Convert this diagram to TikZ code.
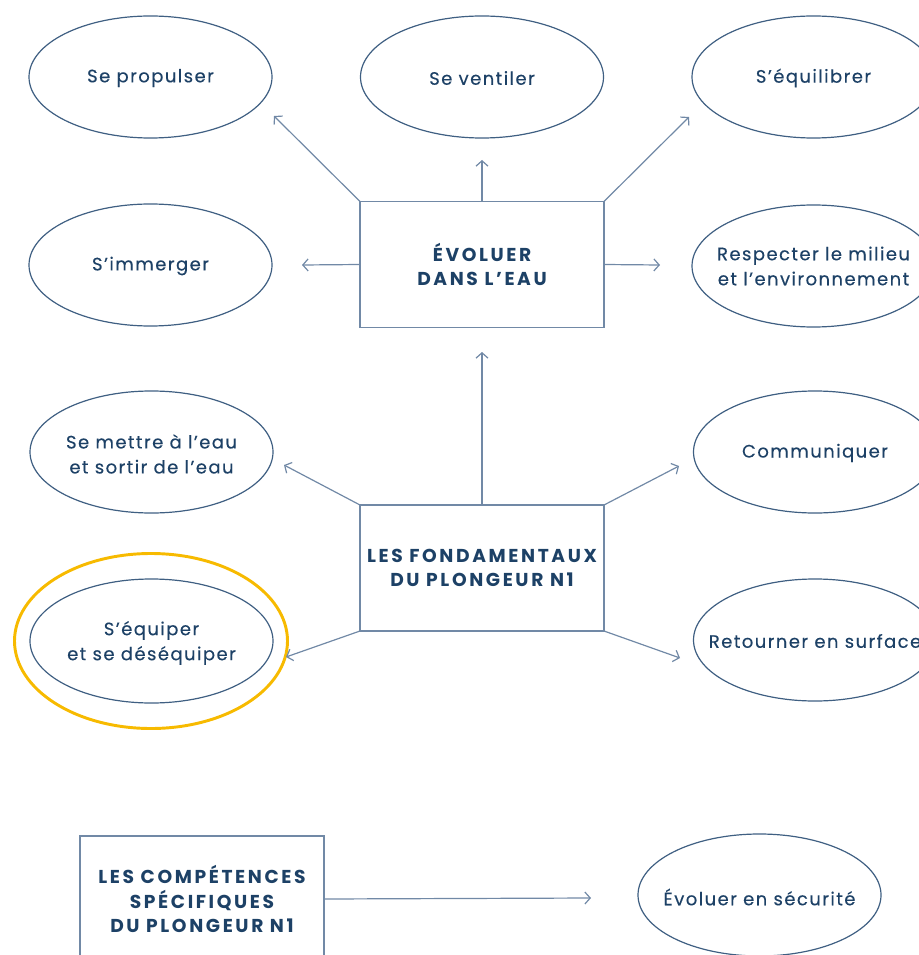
\documentclass[tikz,border=0pt]{standalone}
\usepackage{fontspec}
\setmainfont{Poppins}
\newfontfamily\ovalfont{Poppins}[LetterSpace=8, Ligatures=NoCommon, FakeBold=0.3]
\newfontfamily\boxfont{Poppins}[LetterSpace=14, Ligatures=NoCommon]
\usetikzlibrary{arrows.meta}

\definecolor{navy}{HTML}{1D4166}
\definecolor{lineblue}{HTML}{7189A6}
\definecolor{ovalblue}{HTML}{3F5F82}
\definecolor{ringgold}{HTML}{F7BA00}

\begin{document}
\begin{tikzpicture}[x=0.75pt, y=-0.75pt,
  txt/.style={text=navy, font=\ovalfont\fontsize{13.5}{18.75}\selectfont, align=center, inner sep=0pt},
  title/.style={draw=lineblue, line width=1.2pt, text=navy, font=\boxfont\bfseries\fontsize{14}{18.5}\selectfont,
    align=center, minimum width=183pt, minimum height=94.5pt, inner sep=0pt, outer sep=0pt},
  oval/.style={draw=ovalblue, line width=0.9pt},
  arr/.style={draw=lineblue, line width=0.9pt, -{Straight Barb[length=4pt, width=9pt]}}]

% cadre de la page (les ovales de droite sont coupés au bord)
\useasboundingbox (0,0) rectangle (919,955);
\clip (0,0) rectangle (919,955);

% les trois blocs principaux
\node[title] (evo) at (482,264.5) {ÉVOLUER\\DANS L’EAU};
\node[title] (fond) at (482,568) {LES FONDAMENTAUX\\DU PLONGEUR N1};
\node[title] (spec) at (202,899) {LES COMPÉTENCES\\SPÉCIFIQUES\\DU PLONGEUR N1};

% compétences autour de « évoluer dans l'eau »
\node[txt] (prop) at (150.5,78) {Se propulser};
\node[txt] (vent) at (482,78) {Se ventiler};
\node[txt] (equil) at (813.5,78) {S’équilibrer};
\node[txt] (imm) at (150.5,266) {S’immerger};
\node[txt] (resp) at (813.5,266) {Respecter le milieu\\et l’environnement};

% compétences autour des fondamentaux
\node[txt] (eau) at (151.5,454) {Se mettre à l’eau\\et sortir de l’eau};
\node[txt] (comm) at (815,453) {Communiquer};
\node[txt] (equip) at (151.5,643) {S’équiper\\et se déséquiper};
\node[txt] (surf) at (815,641) {Retourner en surface};

% compétence spécifique
\node[txt] (secu) at (759.5,897) {Évoluer en sécurité};

% ovales autour des textes
\draw[oval] (150.5,77) ellipse [x radius=121.5, y radius=61];
\draw[oval] (482,77) ellipse [x radius=121.5, y radius=61];
\draw[oval] (813.5,77) ellipse [x radius=121.5, y radius=61];
\draw[oval] (150.5,265) ellipse [x radius=121.5, y radius=61];
\draw[oval] (813.5,266) ellipse [x radius=121.5, y radius=61];
\draw[oval] (151.5,452) ellipse [x radius=121.5, y radius=61];
\draw[oval] (815,452) ellipse [x radius=121.5, y radius=61];
\draw[oval] (151.5,641) ellipse [x radius=121.5, y radius=62];
\draw[oval] (815,640) ellipse [x radius=121.5, y radius=61];
\draw[oval] (759.5,895) ellipse [x radius=121.5, y radius=61];

% anneau jaune : compétence mise en avant
\draw[ringgold, line width=2.2pt] (151,641) ellipse [x radius=136.5, y radius=87.5];

% pointes des flèches (elles s'arrêtent avant les ovales)
\coordinate (tProp) at (274,116);
\coordinate (tVent) at (482,160);
\coordinate (tEquil) at (689,117);
\coordinate (tImm) at (302,265);
\coordinate (tResp) at (660,265);
\coordinate (tEvo) at (482,352);
\coordinate (tEau) at (284,465);
\coordinate (tComm) at (679,466);
\coordinate (tEquip) at (286,657);
\coordinate (tSurf) at (680,658);
\coordinate (tSecu) at (591,898);

% flèches
\draw[arr] (evo.north west) -- (tProp);
\draw[arr] (evo.north) -- (tVent);
\draw[arr] (evo.north east) -- (tEquil);
\draw[arr] (evo.west) -- (tImm);
\draw[arr] (evo.east) -- (tResp);
\draw[arr] (fond.north) -- (tEvo);
\draw[arr] (fond.north west) -- (tEau);
\draw[arr] (fond.north east) -- (tComm);
\draw[arr] (fond.south west) -- (tEquip);
\draw[arr] (fond.south east) -- (tSurf);
\draw[arr] (spec.east) -- (tSecu);

\end{tikzpicture}
\end{document}
